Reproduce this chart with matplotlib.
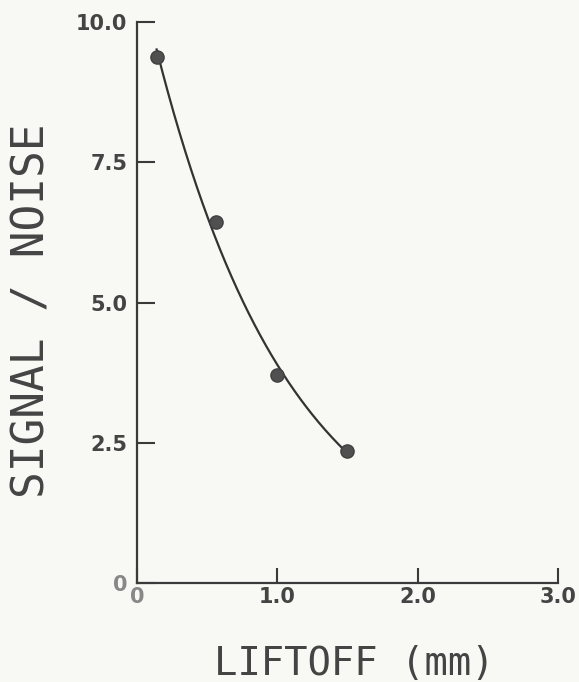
import numpy as np
from matplotlib import pyplot as plt

liftoff = [0.14, 0.56, 1.0, 1.5]
signal_noise = [9.38, 6.43, 3.71, 2.35]

x_ticks = [0, 1.0, 2.0, 3.0]
x_labels = ["0", "1.0", "2.0", "3.0"]
y_ticks = [0, 2.5, 5.0, 7.5, 10.0]
y_labels = ["0", "2.5", "5.0", "7.5", "10.0"]

bg = "#f8f8f4"
ink = "#3a3a3a"

fig = plt.figure(figsize=(5.79, 6.82), dpi=100, facecolor=bg)
ax = fig.add_axes([0.2366, 0.1452, 0.7271, 0.8225], facecolor=bg)

# smooth exponential fit through the measured points
b, a = np.polyfit(liftoff, np.log(signal_noise), 1)
xs = np.linspace(liftoff[0], liftoff[-1], 200)
ax.plot(xs, np.exp(a + b * xs), color="#333333", lw=1.6)
ax.plot(liftoff, signal_noise, "o", color="#505050", ms=9.5, mec="#404040")

ax.set_xlim(0, 3.0)
ax.set_ylim(0, 10.0)
for s in ["top", "right"]:
    ax.spines[s].set_visible(False)
for s in ["left", "bottom"]:
    ax.spines[s].set_linewidth(1.6)
    ax.spines[s].set_color(ink)

ax.set_xticks(x_ticks)
ax.set_xticklabels(x_labels)
ax.set_yticks(y_ticks)
ax.set_yticklabels(y_labels)
ax.tick_params(axis="y", direction="in", length=13, width=1.5, color=ink, pad=7)
ax.tick_params(axis="x", direction="in", length=11, width=1.5, color=ink, pad=3)
for lab in ax.get_xticklabels() + ax.get_yticklabels():
    lab.set_fontfamily("DejaVu Sans")
    lab.set_fontweight("bold")
    lab.set_fontsize(15)
    lab.set_color("#444444")
ax.get_xticklabels()[0].set_color("#888888")
ax.get_yticklabels()[0].set_color("#888888")

fig.text(0.055, 1 - 311 / 682, "SIGNAL / NOISE", rotation=90, ha="center", va="center",
         family="DejaVu Sans Mono", fontsize=32, color="#444444")
fig.text(354 / 579, 1 - 664 / 682, "LIFTOFF (mm)", ha="center", va="center",
         family="DejaVu Sans Mono", fontsize=28, color="#444444")

fig.savefig("out.png", dpi=100, facecolor=bg)
